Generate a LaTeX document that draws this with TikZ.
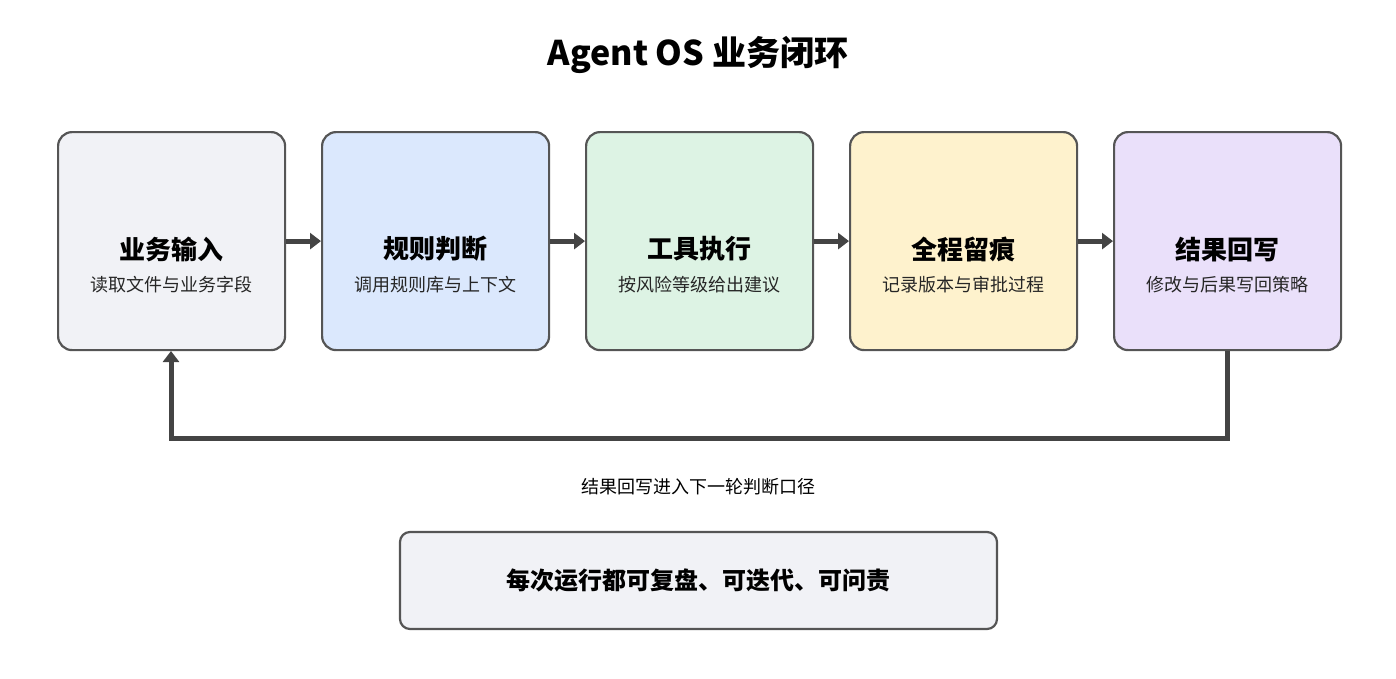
\documentclass[tikz,border=0pt]{standalone}
\usepackage{fontspec}
\setmainfont{Noto Sans CJK SC}
\usetikzlibrary{arrows.meta}
\definecolor{bd}{HTML}{555555}
\definecolor{ar}{HTML}{444444}
\tikzset{x=1pt,y=-1pt,
 box/.style={draw=bd,line width=2.2pt,rounded corners=14pt,minimum width=227pt,minimum height=218pt,anchor=north west},
 ttl/.style={font=\bfseries\fontsize{26}{30}\selectfont,text=black},
 sub/.style={font=\fontsize{18}{22}\selectfont,text=black!85},
 arr/.style={draw=ar,line width=5pt,-{Triangle[length=11pt,width=16pt]}}}
\begin{document}
\begin{tikzpicture}
\useasboundingbox (0,0) rectangle (1396,678);
\node[font=\bfseries\fontsize{34}{40}\selectfont] (title) at (698,55) {Agent OS 业务闭环};
\foreach \n/\x/\c/\t/\s in {b1/57/F1F2F6/业务输入/读取文件与业务字段, b2/321/DBE8FD/规则判断/调用规则库与上下文, b3/585/DDF3E4/工具执行/按风险等级给出建议, b4/849/FEF2CD/全程留痕/记录版本与审批过程, b5/1113/EAE0FA/结果回写/修改与后果写回策略}{
 \definecolor{fc}{HTML}{\c}
 \node[box,fill=fc] (\n) at (\x,131) {};
 \node[ttl] (\n t) at ([yshift=-8pt]\n.center) {\t};
 \node[sub] (\n s) at ([yshift=-44pt]\n.center) {\s};
}
\draw[arr] (b1.east) -- (b2.west);
\draw[arr] (b2.east) -- (b3.west);
\draw[arr] (b3.east) -- (b4.west);
\draw[arr] (b4.east) -- (b5.west);
\coordinate (c1) at (1227,438);
\coordinate (c2) at (171,438);
\coordinate (c3) at (171,351);
\draw[arr,-{Triangle[length=11pt,width=16pt]}] (b5.south) |- (c2) -- (c3);
\node[font=\fontsize{18}{22}\selectfont] (lab) at (698,487) {结果回写进入下一轮判断口径};
\node[draw=bd,line width=2.2pt,rounded corners=10pt,fill={rgb,255:red,241;green,242;blue,246},minimum width=597pt,minimum height=97pt,font=\bfseries\fontsize{24}{28}\selectfont] (bot) at (698.5,580.5) {每次运行都可复盘、可迭代、可问责};
\end{tikzpicture}
\end{document}
